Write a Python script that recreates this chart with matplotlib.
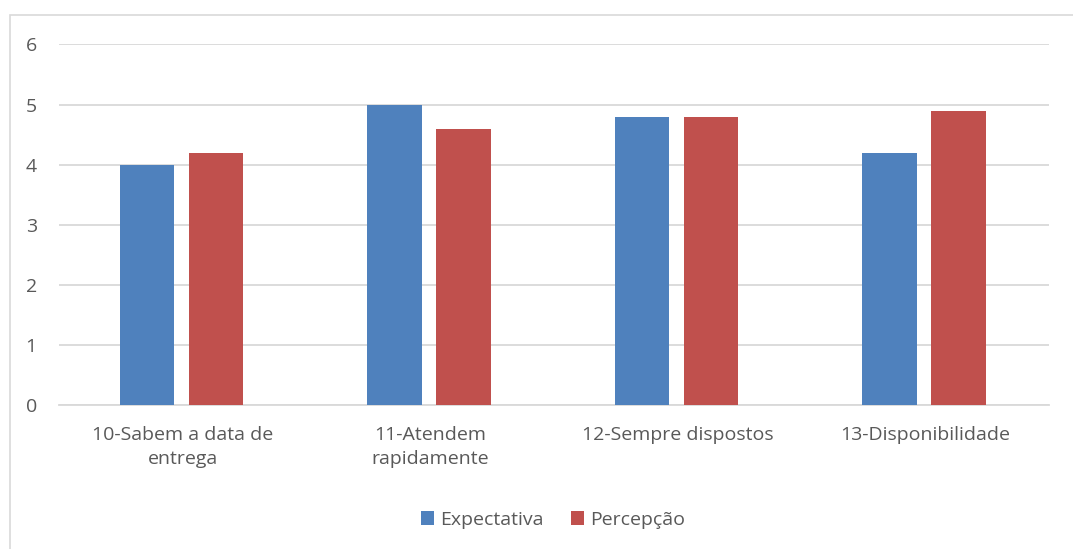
import numpy as np
import matplotlib.pyplot as plt
from matplotlib.patches import Rectangle

categorias = ["10-Sabem a data de\nentrega", "11-Atendem\nrapidamente",
              "12-Sempre dispostos", "13-Disponibilidade"]
expectativa = [4.0, 5.0, 4.8, 4.2]
percepcao = [4.2, 4.6, 4.8, 4.9]

plt.rcParams['font.family'] = ['Open Sans', 'DejaVu Sans']
cinza = '#595959'

fig = plt.figure(figsize=(10.73, 5.49), dpi=100)
ax = fig.add_axes([59 / 1073, 144 / 549, 990 / 1073, 360.5 / 549])

# moldura do gráfico
fig.patches.append(Rectangle((10 / 1073, -0.05), 1.1, (549 - 15) / 549 + 0.05,
                             transform=fig.transFigure, fill=False,
                             edgecolor='#d9d9d9', linewidth=1.2))

x = np.arange(len(categorias))
w = 0.22
ax.bar(x - 0.145, expectativa, w, color='#4f81bd', label='Expectativa', zorder=3)
ax.bar(x + 0.135, percepcao, w, color='#c0504d', label='Percepção', zorder=3)

ax.set_xlim(-0.5, 3.5)
ax.set_ylim(0, 6)
ax.set_yticks(range(0, 7))
ax.yaxis.grid(True, color='#d9d9d9', linewidth=1.3, zorder=0)
for s in ['top', 'right', 'left']:
    ax.spines[s].set_visible(False)
ax.spines['bottom'].set_color('#d9d9d9')
ax.spines['bottom'].set_linewidth(1.3)
ax.tick_params(axis='both', length=0, labelsize=14, labelcolor=cinza)
ax.tick_params(axis='y', pad=16)
ax.tick_params(axis='x', pad=15)
ax.set_xticks(x)
ax.set_xticklabels(categorias, linespacing=1.45)

leg = fig.legend(loc='center', bbox_to_anchor=(553 / 1073, 1 - 520 / 549), ncol=2,
                 frameon=False, fontsize=14, handlelength=0.7, handleheight=0.7,
                 handletextpad=0.3, columnspacing=1.4)
for t in leg.get_texts():
    t.set_color(cinza)

fig.savefig('out.png', dpi=100)
